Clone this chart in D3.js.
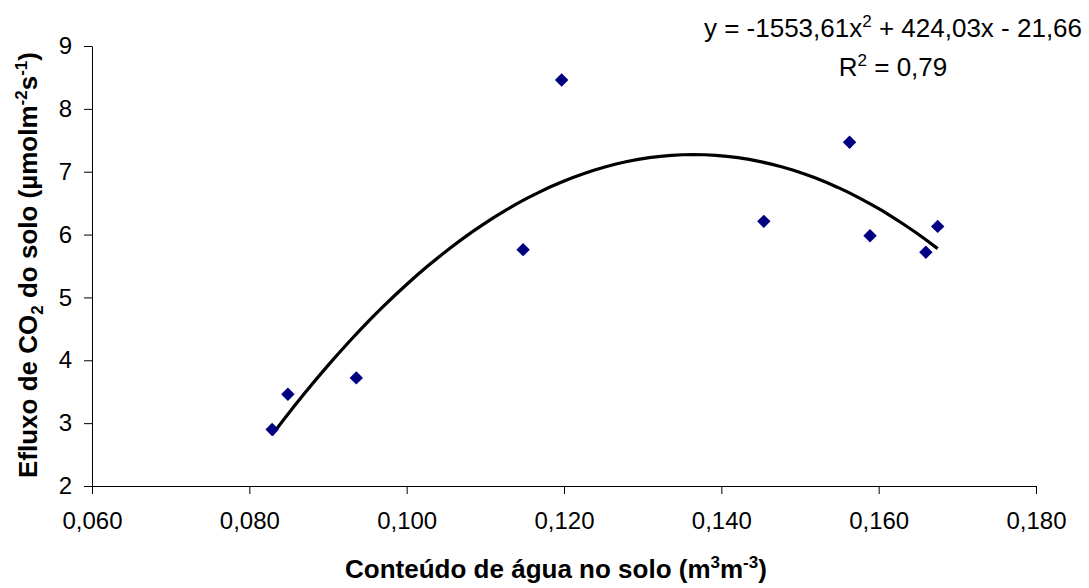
<!DOCTYPE html>
<html>
  <head>
    <meta charset="utf-8">
    <title>Efluxo de CO2 do solo</title>
    <script src="https://cdn.jsdelivr.net/npm/d3@7"></script>
    <style>
      body { margin: 0; background: #fff; }
      text { font-family: Arial, "Liberation Sans", sans-serif; fill: #000; }
      .tick line, .domain { stroke: #000; }
    </style>
  </head>

  <body>
    <svg id="chart" width="1089" height="588"></svg>

    <script>
      // data
      agua = [0.0829, 0.0849, 0.0936, 0.1148, 0.1197, 0.1454, 0.1563, 0.1589, 0.1660, 0.1675];
      efluxo = [2.90, 3.46, 3.72, 5.76, 8.46, 6.21, 7.47, 5.98, 5.72, 6.13];
      // polynomial trendline coefficients (x^2, x, constant) as printed on the chart
      coef = [-1553.61, 424.03, -21.66];
      r2 = "0,79";
      xTicks = [0.06, 0.08, 0.10, 0.12, 0.14, 0.16, 0.18];
      yTicks = [2, 3, 4, 5, 6, 7, 8, 9];

      svg = d3.select("#chart");
      margin = { top: 46, right: 53, bottom: 102, left: 92 };
      width = 1089 - margin.left - margin.right;
      height = 588 - margin.top - margin.bottom;

      ptBR = d3.formatLocale({ decimal: ",", thousands: ".", grouping: [3], currency: ["R$", ""] });

      x = d3.scaleLinear()
        .domain([0.06, 0.18])
        .range([margin.left, margin.left + width]);
      y = d3.scaleLinear()
        .domain([2, 9])
        .range([margin.top + height, margin.top]);

      // axes
      svg.append("g")
        .attr("transform", "translate(0," + (margin.top + height) + ")")
        .call(d3.axisBottom(x)
          .tickValues(xTicks)
          .tickFormat(ptBR.format(".3f"))
          .tickSize(8)
          .tickPadding(18)
          .tickSizeOuter(0))
        .call(function(g) {
          g.selectAll("text").style("font-size", "24px");
        });

      svg.append("g")
        .attr("transform", "translate(" + margin.left + ",0)")
        .call(d3.axisLeft(y)
          .tickValues(yTicks)
          .tickFormat(d3.format("d"))
          .tickSize(8)
          .tickPadding(12)
          .tickSizeOuter(0))
        .call(function(g) {
          g.selectAll("text").style("font-size", "24px");
        });

      // trendline
      poly = function(v) { return coef[0] * v * v + coef[1] * v + coef[2]; };
      ext = d3.extent(agua);
      curve = d3.range(0, 61).map(function(i) {
        let v = ext[0] + (ext[1] - ext[0]) * i / 60;
        return [v, poly(v)];
      });
      svg.append("path")
        .datum(curve)
        .attr("fill", "none")
        .attr("stroke", "#000")
        .attr("stroke-width", 3.2)
        .attr("d", d3.line()
          .x(function(d) { return x(d[0]); })
          .y(function(d) { return y(d[1]); }));

      // points
      diamond = d3.symbol().type(d3.symbolSquare).size(90);
      svg.append("g")
        .selectAll("path")
        .data(agua)
        .join("path")
          .attr("d", diamond)
          .attr("fill", "#000080")
          .attr("transform", function(d, i) {
            return "translate(" + x(d) + "," + y(efluxo[i]) + ") rotate(45)";
          });

      // equation
      eq = svg.append("text")
        .attr("x", 893)
        .attr("y", 37)
        .attr("text-anchor", "middle")
        .style("font-size", "26px");
      eq.append("tspan").text("y = " + ptBR.format(".2f")(coef[0]).replace("−", "-") + "x");
      eq.append("tspan").attr("dy", -10).style("font-size", "17px").text("2");
      eq.append("tspan").attr("dy", 10).text(" + " + ptBR.format(".2f")(coef[1]) + "x - " + ptBR.format(".2f")(-coef[2]));

      r = svg.append("text")
        .attr("x", 893)
        .attr("y", 76)
        .attr("text-anchor", "middle")
        .style("font-size", "26px");
      r.append("tspan").text("R");
      r.append("tspan").attr("dy", -10).style("font-size", "17px").text("2");
      r.append("tspan").attr("dy", 10).text(" = " + r2);

      // axis titles
      xl = svg.append("text")
        .attr("x", margin.left + width / 2 - 8)
        .attr("y", 578)
        .attr("text-anchor", "middle")
        .style("font-size", "26px")
        .style("font-weight", "bold");
      xl.append("tspan").text("Conteúdo de água no solo (m");
      xl.append("tspan").attr("dy", -10).style("font-size", "17px").text("3");
      xl.append("tspan").attr("dy", 10).text("m");
      xl.append("tspan").attr("dy", -10).style("font-size", "17px").text("-3");
      xl.append("tspan").attr("dy", 10).text(")");

      yl = svg.append("text")
        .attr("transform", "translate(37," + (margin.top + height / 2 - 1) + ") rotate(-90)")
        .attr("text-anchor", "middle")
        .style("font-size", "26px")
        .style("font-weight", "bold");
      yl.append("tspan").text("Efluxo de CO");
      yl.append("tspan").attr("dy", 6).style("font-size", "17px").text("2");
      yl.append("tspan").attr("dy", -6).text(" do solo (µmolm");
      yl.append("tspan").attr("dy", -10).style("font-size", "17px").text("-2");
      yl.append("tspan").attr("dy", 10).text("s");
      yl.append("tspan").attr("dy", -10).style("font-size", "17px").text("-1");
      yl.append("tspan").attr("dy", 10).text(")");
    </script>
  </body>
</html>
